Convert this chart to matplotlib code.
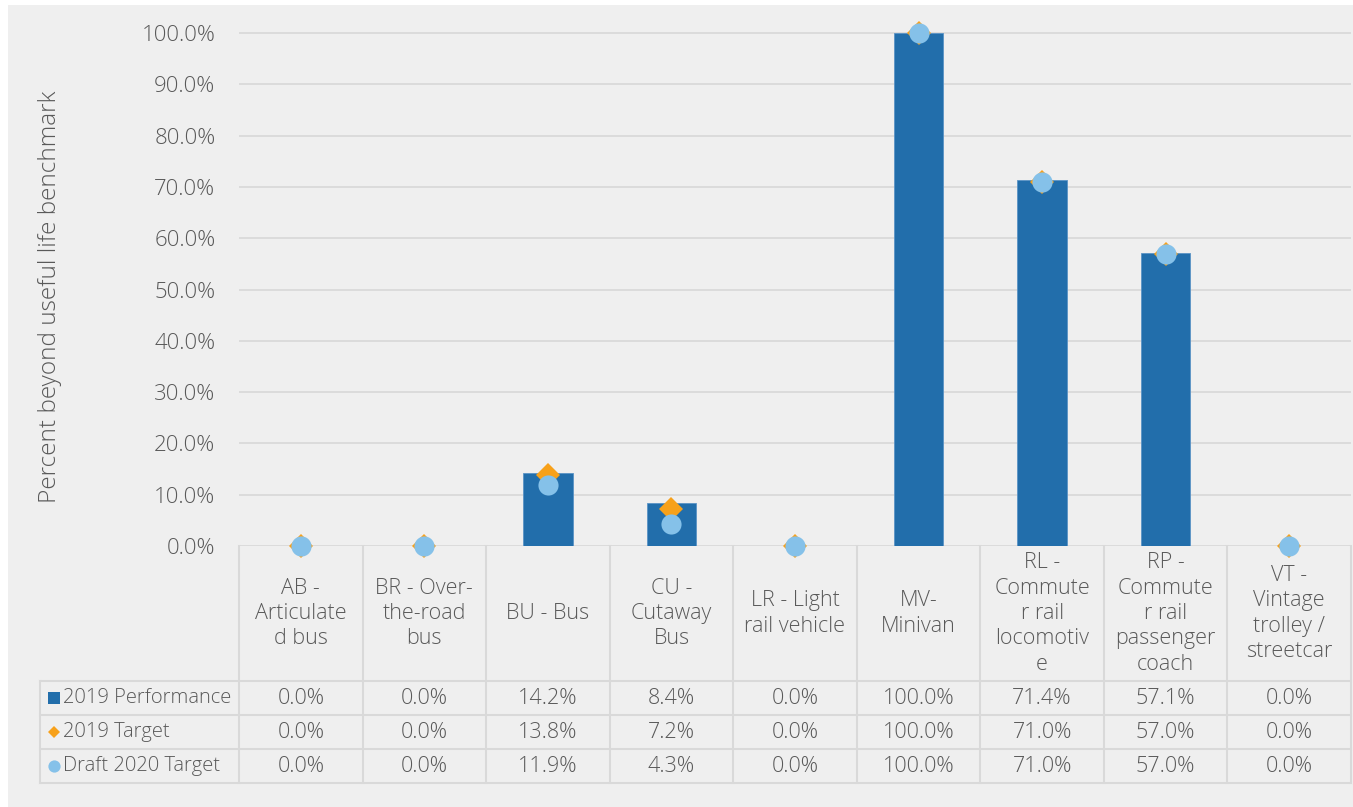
import numpy as np
import matplotlib.pyplot as plt
from matplotlib.patches import Rectangle
from matplotlib.lines import Line2D
from matplotlib.transforms import blended_transform_factory

# data
categories = ["AB -\nArticulate\nd bus", "BR - Over-\nthe-road\nbus", "BU - Bus",
              "CU -\nCutaway\nBus", "LR - Light\nrail vehicle", "MV-\nMinivan",
              "RL -\nCommute\nr rail\nlocomotiv\ne", "RP -\nCommute\nr rail\npassenger\ncoach",
              "VT -\nVintage\ntrolley /\nstreetcar"]
perf_2019 = [0.0, 0.0, 14.2, 8.4, 0.0, 100.0, 71.4, 57.1, 0.0]
target_2019 = [0.0, 0.0, 13.8, 7.2, 0.0, 100.0, 71.0, 57.0, 0.0]
target_2020 = [0.0, 0.0, 11.9, 4.3, 0.0, 100.0, 71.0, 57.0, 0.0]
series_names = ["2019 Performance", "2019 Target", "Draft 2020 Target"]
yticks = np.arange(0, 101, 10)

BAR = '#226eab'
ORANGE = '#f7a11a'
LIGHT = '#85c1e9'
TEXT = '#595959'
LINE = '#d9d9d9'
BG = '#efefef'

plt.rcParams['font.family'] = ['Open Sans', 'DejaVu Sans']
plt.rcParams['font.weight'] = 'light'
FS = 15.5

W, H = 1353, 807
fig = plt.figure(figsize=(W / 100, H / 100), dpi=100, facecolor='white')

def fx(p):
    return p / W

def fy(p):
    return 1 - p / H

# gray chart area
fig.patches.append(Rectangle((fx(8), 0), 1, fy(5), transform=fig.transFigure,
                             facecolor=BG, edgecolor='none', zorder=-10))

ax = fig.add_axes([fx(239), fy(546), fx(1351 - 239), (546 - 7.4) / H])
ax.set_facecolor('none')
x = np.arange(len(categories))

ax.bar(x, perf_2019, width=0.4, color=BAR, edgecolor='#5a93c6', linewidth=0.6, zorder=2)
ax.plot(x, target_2019, linestyle='none', marker='D', ms=12.5, color=ORANGE,
        markeredgewidth=0, zorder=3, clip_on=False)
ax.plot(x, target_2020, linestyle='none', marker='o', ms=14.5, color=LIGHT,
        markeredgewidth=0, zorder=4, clip_on=False)

ax.set_xlim(-0.5, len(categories) - 0.5)
ax.set_ylim(0, 105)
ax.set_yticks(yticks)
ax.set_yticklabels([f"{v:.1f}%" for v in yticks], fontsize=16, color=TEXT)
ax.tick_params(axis='y', length=0, pad=17)
ax.set_xticks([])
for s in ax.spines.values():
    s.set_visible(False)
ax.yaxis.grid(True, color=LINE, linewidth=1.3)
ax.set_axisbelow(True)

fig.text(fx(50), fy(297), "Percent beyond useful life benchmark", rotation=90,
         ha='center', va='center', fontsize=17.6, color=TEXT)

# data table under the chart
tr = blended_transform_factory(ax.transData, fig.transFigure)
rows_y = [681, 715, 749, 783]
for yy in rows_y:
    fig.add_artist(Line2D([fx(40), fx(1351)], [fy(yy), fy(yy)], transform=fig.transFigure,
                          color=LINE, linewidth=1.5))
fig.add_artist(Line2D([fx(40), fx(40)], [fy(681), fy(783)], transform=fig.transFigure,
                      color=LINE, linewidth=1.5))
for i in range(len(categories) + 1):
    fig.add_artist(Line2D([i - 0.5, i - 0.5], [fy(546), fy(783)], transform=tr,
                          color=LINE, linewidth=1.5))

for i, c in enumerate(categories):
    fig.text(i, fy(613.5), c, transform=tr, ha='center', va='center', fontsize=FS,
             color=TEXT, linespacing=1.28)

series = [perf_2019, target_2019, target_2020]
markers = [('s', 8.6, BAR), ('D', 6.2, ORANGE), ('o', 8.8, LIGHT)]
for r, (name, vals, (m, ms, col)) in enumerate(zip(series_names, series, markers)):
    yc = fy((rows_y[r] + rows_y[r + 1]) / 2)
    fig.add_artist(Line2D([fx(53.5)], [yc], transform=fig.transFigure, marker=m, ms=ms,
                          color=col, markeredgewidth=0, linestyle='none'))
    fig.text(fx(63), yc, name, ha='left', va='center', fontsize=14.5, color=TEXT)
    for i, v in enumerate(vals):
        fig.text(i, yc, f"{v:.1f}%", transform=tr, ha='center', va='center',
                 fontsize=FS, color=TEXT)

fig.savefig('out.png', dpi=100, facecolor=fig.get_facecolor())
